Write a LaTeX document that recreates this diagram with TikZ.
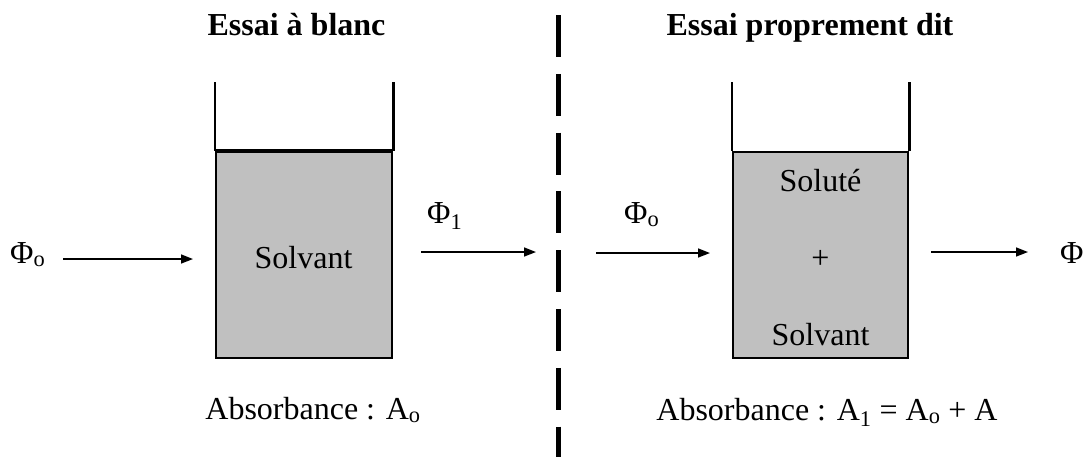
\documentclass[tikz,border=0pt]{standalone}
\usepackage{fontspec}
\setmainfont{Liberation Serif}
\usetikzlibrary{arrows.meta}
\definecolor{LiquidGray}{HTML}{C0C0C0}

\begin{document}
\begin{tikzpicture}[
  x=1pt, y=-1pt,
  txt/.style     = {font=\fontsize{32}{38}\selectfont, inner sep=0pt, anchor=base},
  head/.style    = {txt, font=\fontsize{32}{38}\selectfont\bfseries},
  liquid/.style  = {draw, fill=LiquidGray, line width=2.5pt, minimum height=206pt, inner sep=0pt},
  wall/.style    = {line width=2.5pt},
  flux/.style    = {-{Triangle[length=12pt,width=9pt]}, line width=1.6pt},
  divider/.style = {line width=4.5pt, dash pattern=on 42pt off 16.8pt}
]
  \useasboundingbox (0,0) rectangle (1085,456);

  % titles
  \node[head] (titleA) at (296.5,35) {Essai à blanc};
  \node[head] (titleB) at (810,35) {Essai proprement dit};

  % dashed separation
  \coordinate (sepTop) at (558.5,15);
  \coordinate (sepBot) at (558.5,470);
  \draw[divider] (sepTop) -- (sepBot);

  % blank cell
  \node[liquid, minimum width=176pt] (solA) at (304,255) {};
  \draw[wall] (solA.north west) -- ++(0,-69);
  \draw[wall] (solA.north east) -- ++(0,-69);
  \draw[line width=4pt] (solA.north west) -- (solA.north east);
  \node[txt] (solvA) at (303.5,268) {Solvant};

  % sample cell
  \node[liquid, minimum width=175pt] (solB) at (820.5,255) {};
  \draw[wall] (solB.north west) -- ++(0,-69);
  \draw[wall] (solB.north east) -- ++(0,-69);
  \node[txt] (solute) at (820.5,191) {Soluté};
  \node[txt] (plus) at (820.5,268) {+};
  \node[txt] (solvB) at (820.5,345) {Solvant};

  % fluxes
  \node[txt, anchor=base west] (phiA0) at (10,263) {Φ\textsubscript{o}};
  \node[txt, anchor=base west] (phiA1) at (427,223) {Φ\textsubscript{1}};
  \node[txt, anchor=base west] (phiB0) at (624,223) {Φ\textsubscript{o}};
  \node[txt, anchor=base west] (phiB1) at (1060,263) {Φ};

  \coordinate (inA0) at (63,259);   \coordinate (inA1) at (193,259);
  \coordinate (outA0) at (421,252); \coordinate (outA1) at (536,252);
  \coordinate (inB0) at (596,253);  \coordinate (inB1) at (710,253);
  \coordinate (outB0) at (931,252); \coordinate (outB1) at (1028,252);
  \draw[flux] (inA0) -- (inA1);
  \draw[flux] (outA0) -- (outA1);
  \draw[flux] (inB0) -- (inB1);
  \draw[flux] (outB0) -- (outB1);

  % absorbances
  \node[txt] (absA) at (313,419) {Absorbance : A\textsubscript{o}};
  \node[txt] (absB) at (827,420) {Absorbance : A\textsubscript{1} = A\textsubscript{o} + A};
\end{tikzpicture}
\end{document}
